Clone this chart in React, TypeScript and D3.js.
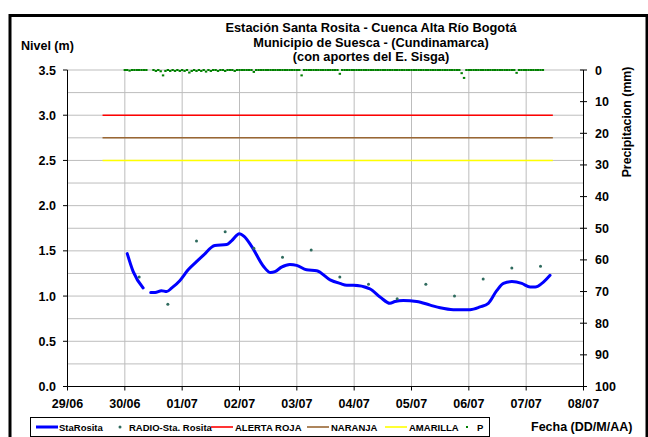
import React from "react";
import * as d3 from "d3";

// ---------- data ----------
const dayLabels = ["29/06", "30/06", "01/07", "02/07", "03/07", "04/07", "05/07", "06/07", "07/07", "08/07"];
const levelTickValues = [0, 0.5, 1.0, 1.5, 2.0, 2.5, 3.0, 3.5];
const rainTickValues = [0, 10, 20, 30, 40, 50, 60, 70, 80, 90, 100];

// StaRosita (hourly level, m)
const levelTimes = [
  "30/06 01:00", "30/06 03:30", "30/06 07:40", "30/06 09:00", "30/06 10:50", "30/06 12:40", "30/06 15:20",
  "30/06 17:30", "30/06 19:40", "30/06 23:00", "01/07 02:30", "01/07 06:00", "01/07 08:50", "01/07 13:40",
  "01/07 18:40", "01/07 20:40", "01/07 23:55", "02/07 01:55", "02/07 05:05", "02/07 10:00", "02/07 13:00",
  "02/07 14:50", "02/07 17:35", "02/07 21:05", "02/07 23:55", "03/07 04:05", "03/07 08:20", "03/07 13:55",
  "03/07 18:05", "03/07 20:55", "03/07 23:40", "04/07 06:35", "04/07 10:50", "04/07 15:00", "04/07 17:05",
  "04/07 20:35", "05/07 02:10", "05/07 07:50", "05/07 12:00", "05/07 17:30", "06/07 00:30", "06/07 04:40",
  "06/07 08:10", "06/07 11:40", "06/07 14:30", "06/07 18:00", "06/07 22:10", "07/07 01:40", "07/07 03:50",
  "07/07 06:35", "07/07 10:00",
];
const levelValues: (number | null)[] = [
  1.47, 1.27, 1.09, null, 1.04, 1.04, 1.06,
  1.05, 1.09, 1.17, 1.29, 1.38, 1.45, 1.56,
  1.57, 1.61, 1.69, 1.66, 1.55, 1.33, 1.26,
  1.27, 1.32, 1.35, 1.34, 1.29, 1.28, 1.18,
  1.14, 1.12, 1.12, 1.08, 0.99, 0.92, 0.94,
  0.95, 0.94, 0.9, 0.87, 0.85, 0.85, 0.88,
  0.92, 1.06, 1.14, 1.16, 1.14, 1.1, 1.1,
  1.14, 1.23,
];

// RADIO-Sta. Rosita (manual readings, m)
const radioTimes = [
  "30/06 06:00", "30/06 18:00", "01/07 06:00", "01/07 18:00", "02/07 06:00", "02/07 18:00", "03/07 06:00",
  "03/07 18:00", "04/07 06:00", "04/07 18:00", "05/07 06:00", "05/07 18:00", "06/07 06:00", "06/07 18:00",
  "07/07 06:00",
];
const radioValues = [1.21, 0.91, 1.61, 1.71, 1.53, 1.43, 1.51, 1.21, 1.13, 0.97, 1.13, 1.0, 1.19, 1.31, 1.33];

// Alert levels (m)
const alertTimes = ["29/06 14:40", "07/07 11:10"];
const alertRoja = 3.0;
const alertNaranja = 2.75;
const alertAmarilla = 2.5;

// P (hourly precipitation, mm) starting 30/06 00:00
const rainStart = "30/06 00:00";
const rain30_06: (number | null)[] = [0, 0, 0.2, 0, 0, 0, 0, 0, 0, 0, null, null, 0, 0.3, 0, 0.4, 1.7, 0.3, 0, 0.3, 0, 0.3, 0, 0.3];
const rain01_07: (number | null)[] = [0, 0.3, 0, 0.8, 0.3, 0, 0.3, 0, 0.3, 0, 0.5, 0, 0.3, 0, 0, 0.3, 0, 0, 0.3, 0, 0, 0, 0.3, 0];
const rain02_07: (number | null)[] = [0, 0, 0, 0, 0, 0, 0.6, 0, 0, 0, 0, 0, 0, 0, 0, 0, 0, 0, 0, 0, 0, 0, 0, 0];
const rain03_07: (number | null)[] = [0, 0, 1.7, 0, 0, 0, 0, 0, 0, 0, 0, 0, 0, 0, 0, 0, 0, 0, 1.2, 0, 0, 0, 0, 0];
const rain04_07: (number | null)[] = [0, 0, 0, 0, 0, 0, 0, 0, 0, 0, 0, 0, 0, 0, 0, 0, 0, 0, 0, 0, 0, 0, 0, 0];
const rain05_07: (number | null)[] = [0, 0, 0, 0, 0, 0, 0, 0, 0, 0, 0, 0, 0, 0, 0, 0, 0, 0, 0, 0, 0, 1.0, 2.5, 0];
const rain06_07: (number | null)[] = [0, 0, 0, 0, 0, 0, 0, 0, 0, 0, 0, 0, 0, 0, 0, 0, 0, 0, 0, 0, 0.9, 0, 0, 0];
const rain07_07: (number | null)[] = [0, 0, 0, 0, 0, 0, 0, 0];

const titleLines = [
  "Estación Santa Rosita - Cuenca Alta Río Bogotá",
  "Municipio de Suesca - (Cundinamarca)",
  "(con aportes del  E. Sisga)",
];

// ---------- chart ----------
const parse = d3.utcParse("%d/%m %H:%M");
const FONT = "'Liberation Sans', Arial, sans-serif";

export default function App() {
  const W = 648;
  const H = 437;
  const x = d3
    .scaleUtc()
    .domain([parse(dayLabels[0] + " 00:00")!, parse(dayLabels[dayLabels.length - 1] + " 00:00")!])
    .range([67.5, 583.5]);
  const yL = d3.scaleLinear().domain([0, 3.5]).range([386.5, 70]);
  const yR = d3.scaleLinear().domain([0, 100]).range([70, 386.5]);

  const level = levelTimes.map((t, i) => ({ t: parse(t)!, v: levelValues[i] }));
  const radio = radioTimes.map((t, i) => ({ t: parse(t)!, v: radioValues[i] }));
  const rainAll = [...rain30_06, ...rain01_07, ...rain02_07, ...rain03_07, ...rain04_07, ...rain05_07, ...rain06_07, ...rain07_07];
  const r0 = parse(rainStart)!;
  const rain = rainAll.map((v, i) => ({ t: d3.utcHour.offset(r0, i), v }));

  const line = d3
    .line<{ t: Date; v: number | null }>()
    .defined((d) => d.v != null)
    .x((d) => x(d.t))
    .y((d) => yL(d.v as number))
    .curve(d3.curveMonotoneX);

  const a0 = x(parse(alertTimes[0])!);
  const a1 = x(parse(alertTimes[1])!);
  const gridVals = d3.range(0.25, 3.51, 0.25);
  const dayDates = dayLabels.map((d) => parse(d + " 00:00")!);
  const [xl, xr] = x.range();
  const [yb, yt] = yL.range();

  const legendY = 427;
  return (
    <svg width={W} height={H} style={{ position: "absolute", left: 0, top: 0, background: "#fff" }} fontFamily={FONT}>
      <rect x={0} y={0} width={W} height={H} fill="#fff" />
      {/* frame */}
      <rect x={10} y={15.5} width={637} height={440} fill="none" stroke="#000" strokeWidth={3} />

      {/* title */}
      {titleLines.map((s, i) => (
        <text key={i} x={371} y={32 + i * 14.5} textAnchor="middle" fontSize={12.8} fontWeight="bold">
          {s}
        </text>
      ))}
      <text x={21} y={50} fontSize={12.5} fontWeight="bold">Nivel (m)</text>
      <text transform="translate(631,122) rotate(-90)" textAnchor="middle" fontSize={12.3} fontWeight="bold">
        Precipitacion (mm)
      </text>

      {/* grid */}
      {gridVals.map((g) => (
        <line key={"h" + g} x1={xl} x2={xr} y1={yL(g)} y2={yL(g)} stroke="#bdbdbd" strokeWidth={1} />
      ))}
      {dayDates.slice(1, -1).map((d, i) => (
        <line key={"v" + i} x1={x(d)} x2={x(d)} y1={yt} y2={yb} stroke="#bdbdbd" strokeWidth={1} />
      ))}

      {/* alert lines */}
      <line x1={a0} x2={a1} y1={yL(alertRoja)} y2={yL(alertRoja)} stroke="#ff0000" strokeWidth={1.6} />
      <line x1={a0} x2={a1} y1={yL(alertNaranja)} y2={yL(alertNaranja)} stroke="#996633" strokeWidth={1.6} />
      <line x1={a0} x2={a1} y1={yL(alertAmarilla)} y2={yL(alertAmarilla)} stroke="#ffff00" strokeWidth={1.6} />

      {/* level line */}
      <path d={line(level) || ""} fill="none" stroke="#0000ff" strokeWidth={3} strokeLinejoin="round" strokeLinecap="round" />

      {/* radio readings */}
      {radio.map((d, i) => (
        <circle key={"r" + i} cx={x(d.t)} cy={yL(d.v)} r={1.5} fill="#2f6b5e" />
      ))}

      {/* precipitation */}
      {rain
        .filter((d) => d.v != null)
        .map((d, i) => (
          <rect key={"p" + i} x={x(d.t) - 1.2} y={yR(d.v as number) - 1} width={2.4} height={2} fill="#008000" />
        ))}

      {/* axes */}
      <line x1={xl} x2={xl} y1={yt} y2={yb} stroke="#000" strokeWidth={1} />
      <line x1={xr} x2={xr} y1={yt} y2={yb} stroke="#000" strokeWidth={1} />
      <line x1={xl} x2={xr} y1={yb} y2={yb} stroke="#000" strokeWidth={1} />
      {levelTickValues.map((v) => (
        <g key={"lt" + v}>
          <line x1={xl - 4.5} x2={xl} y1={yL(v)} y2={yL(v)} stroke="#000" />
          <text x={56} y={yL(v) + 4.5} textAnchor="end" fontSize={12.5} fontWeight="bold">
            {d3.format(".1f")(v)}
          </text>
        </g>
      ))}
      {rainTickValues.map((v) => (
        <g key={"rt" + v}>
          <line x1={xr - 3.5} x2={xr + 3.5} y1={yR(v)} y2={yR(v)} stroke="#000" />
          <text x={595} y={yR(v) + 4.5} textAnchor="start" fontSize={12.5} fontWeight="bold">
            {v}
          </text>
        </g>
      ))}
      {dayDates.map((d, i) => (
        <g key={"xt" + i}>
          <line x1={x(d)} x2={x(d)} y1={yb} y2={yb + 4} stroke="#000" />
          <text x={x(d)} y={408} textAnchor="middle" fontSize={12.5} fontWeight="bold">
            {dayLabels[i]}
          </text>
        </g>
      ))}

      {/* legend */}
      <rect x={30.5} y={417.5} width={459} height={19} fill="#fff" stroke="#000" strokeWidth={1} />
      <line x1={36} x2={58} y1={legendY} y2={legendY} stroke="#0000ff" strokeWidth={3} />
      <text x={59} y={legendY + 3.5} fontSize={9.5} fontWeight="bold">StaRosita</text>
      <circle cx={120} cy={legendY} r={1.5} fill="#2f6b5e" />
      <text x={129} y={legendY + 3.5} fontSize={9.5} fontWeight="bold">RADIO-Sta. Rosita</text>
      <line x1={211} x2={233} y1={legendY} y2={legendY} stroke="#ff0000" strokeWidth={1.6} />
      <text x={235} y={legendY + 3.5} fontSize={9.5} fontWeight="bold">ALERTA ROJA</text>
      <line x1={307} x2={329} y1={legendY} y2={legendY} stroke="#996633" strokeWidth={1.6} />
      <text x={331} y={legendY + 3.5} fontSize={9.5} fontWeight="bold">NARANJA</text>
      <line x1={385} x2={407} y1={legendY} y2={legendY} stroke="#ffff00" strokeWidth={1.6} />
      <text x={409} y={legendY + 3.5} fontSize={9.5} fontWeight="bold">AMARILLA</text>
      <rect x={466} y={legendY - 1} width={2} height={2} fill="#008000" />
      <text x={477} y={legendY + 3.5} fontSize={9.5} fontWeight="bold">P</text>

      <text x={531} y={431} fontSize={12.5} fontWeight="bold">Fecha (DD/M/AA)</text>
    </svg>
  );
}
